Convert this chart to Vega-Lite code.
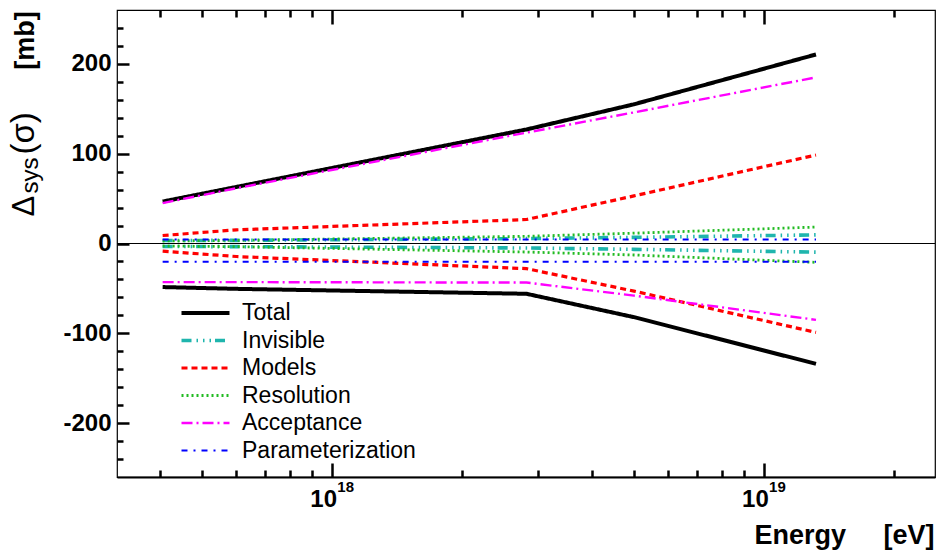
{
  "$schema": "https://vega.github.io/schema/vega-lite/v6.json",
  "width": 818,
  "height": 467,
  "autosize": {"type": "none"},
  "padding": {"left": 117, "top": 10, "right": 4, "bottom": 76},
  "background": "white",
  "config": {
    "view": {"stroke": "black", "strokeWidth": 1.2},
    "font": "Liberation Sans",
    "axis": {"labelFont": "Liberation Sans", "labelFontWeight": "bold", "labelFontSize": 24, "labelColor": "black", "grid": false, "titleColor": "black", "titleFont": "Liberation Sans"}
  },
  "data": {"values": [
    {"s": "Total", "d": "up", "E": 4.05e17, "v": 46.7},
    {"s": "Total", "d": "up", "E": 6e17, "v": 63},
    {"s": "Total", "d": "up", "E": 2.82e18, "v": 127},
    {"s": "Total", "d": "up", "E": 5e18, "v": 155},
    {"s": "Total", "d": "up", "E": 1.32e19, "v": 210.5},
    {"s": "Total", "d": "down", "E": 4.05e17, "v": -48.5},
    {"s": "Total", "d": "down", "E": 6e17, "v": -50.5},
    {"s": "Total", "d": "down", "E": 2.82e18, "v": -56},
    {"s": "Total", "d": "down", "E": 5e18, "v": -82},
    {"s": "Total", "d": "down", "E": 1.32e19, "v": -134},
    {"s": "Invisible", "d": "up", "E": 4.05e17, "v": 3.3},
    {"s": "Invisible", "d": "up", "E": 6e17, "v": 3.5},
    {"s": "Invisible", "d": "up", "E": 2.82e18, "v": 5.5},
    {"s": "Invisible", "d": "up", "E": 5e18, "v": 6.8},
    {"s": "Invisible", "d": "up", "E": 1.32e19, "v": 9.6},
    {"s": "Invisible", "d": "down", "E": 4.05e17, "v": -3.3},
    {"s": "Invisible", "d": "down", "E": 6e17, "v": -3.5},
    {"s": "Invisible", "d": "down", "E": 2.82e18, "v": -5},
    {"s": "Invisible", "d": "down", "E": 5e18, "v": -6.5},
    {"s": "Invisible", "d": "down", "E": 1.32e19, "v": -9.6},
    {"s": "Models", "d": "up", "E": 4.05e17, "v": 8.9},
    {"s": "Models", "d": "up", "E": 6e17, "v": 15.2},
    {"s": "Models", "d": "up", "E": 2.82e18, "v": 26.7},
    {"s": "Models", "d": "up", "E": 5e18, "v": 53},
    {"s": "Models", "d": "up", "E": 1.32e19, "v": 98.5},
    {"s": "Models", "d": "down", "E": 4.05e17, "v": -8.5},
    {"s": "Models", "d": "down", "E": 6e17, "v": -14.5},
    {"s": "Models", "d": "down", "E": 2.82e18, "v": -28},
    {"s": "Models", "d": "down", "E": 5e18, "v": -53},
    {"s": "Models", "d": "down", "E": 1.32e19, "v": -99},
    {"s": "Resolution", "d": "up", "E": 4.05e17, "v": 2.8},
    {"s": "Resolution", "d": "up", "E": 6e17, "v": 3.5},
    {"s": "Resolution", "d": "up", "E": 2.82e18, "v": 8},
    {"s": "Resolution", "d": "up", "E": 5e18, "v": 11.5},
    {"s": "Resolution", "d": "up", "E": 1.32e19, "v": 18.3},
    {"s": "Resolution", "d": "down", "E": 4.05e17, "v": -2.8},
    {"s": "Resolution", "d": "down", "E": 6e17, "v": -3.5},
    {"s": "Resolution", "d": "down", "E": 2.82e18, "v": -9.5},
    {"s": "Resolution", "d": "down", "E": 5e18, "v": -12.8},
    {"s": "Resolution", "d": "down", "E": 1.32e19, "v": -21},
    {"s": "Acceptance", "d": "up", "E": 4.05e17, "v": 45},
    {"s": "Acceptance", "d": "up", "E": 6e17, "v": 61.5},
    {"s": "Acceptance", "d": "up", "E": 2.82e18, "v": 123.5},
    {"s": "Acceptance", "d": "up", "E": 5e18, "v": 146},
    {"s": "Acceptance", "d": "up", "E": 1.32e19, "v": 185},
    {"s": "Acceptance", "d": "down", "E": 4.05e17, "v": -43},
    {"s": "Acceptance", "d": "down", "E": 6e17, "v": -43},
    {"s": "Acceptance", "d": "down", "E": 2.82e18, "v": -43.5},
    {"s": "Acceptance", "d": "down", "E": 5e18, "v": -58},
    {"s": "Acceptance", "d": "down", "E": 1.32e19, "v": -85},
    {"s": "Parameterization", "d": "up", "E": 4.05e17, "v": 4.5},
    {"s": "Parameterization", "d": "up", "E": 6e17, "v": 4.5},
    {"s": "Parameterization", "d": "up", "E": 2.82e18, "v": 4.5},
    {"s": "Parameterization", "d": "up", "E": 5e18, "v": 4.5},
    {"s": "Parameterization", "d": "up", "E": 1.32e19, "v": 4.5},
    {"s": "Parameterization", "d": "down", "E": 4.05e17, "v": -20.3},
    {"s": "Parameterization", "d": "down", "E": 6e17, "v": -20.3},
    {"s": "Parameterization", "d": "down", "E": 2.82e18, "v": -20.3},
    {"s": "Parameterization", "d": "down", "E": 5e18, "v": -20.3},
    {"s": "Parameterization", "d": "down", "E": 1.32e19, "v": -20.3}
  ]},
  "resolve": {"axis": {"x": "independent", "y": "independent"}},
  "layer": [
    {
      "mark": {"type": "line", "strokeCap": "butt"},
      "encoding": {
        "x": {"field": "E", "type": "quantitative",
          "scale": {"type": "log", "domain": [3.175e17, 2.49e19], "nice": false},
          "axis": {"orient": "bottom", "values": [1e18, 1e19], "domain": false, "ticks": true, "tickColor": "black", "tickWidth": 2.5, "offset": -14, "tickSize": 14, "labelPadding": 10, "labelExpr": "'10'", "labelOffset": -9,
            "title": "Energy\u00a0\u00a0\u00a0\u00a0\u00a0[eV]", "titleFontSize": 27, "titleFontWeight": "bold", "titleAnchor": "end", "titleAlign": "right", "titleX": 817, "titleY": 80, "titleBaseline": "alphabetic"}},
        "y": {"field": "v", "type": "quantitative",
          "scale": {"domain": [-260, 260], "nice": false, "zero": false},
          "axis": {"orient": "left", "values": [-200, -100, 0, 100, 200], "domain": false, "ticks": true, "tickColor": "black", "tickWidth": 2.5, "offset": -12, "tickSize": 12, "labelPadding": 6,
            "labelExpr": "datum.value < 0 ? '-' + abs(datum.value) : '' + datum.value",
            "title": "[mb]", "titleFontSize": 27, "titleFontWeight": "bold", "titleAngle": -90, "titleAlign": "center", "titleBaseline": "alphabetic", "titleX": -96, "titleY": 30}},
        "color": {"field": "s", "type": "nominal",
          "scale": {"domain": ["Total", "Invisible", "Models", "Resolution", "Acceptance", "Parameterization"], "range": ["#000000", "#1fb5ad", "#ff0000", "#22bb22", "#ff00ff", "#0000ff"]},
          "legend": {"orient": "none", "legendX": 77, "legendY": 291.5, "title": null, "labelFont": "Liberation Sans", "labelFontSize": 23, "labelColor": "black", "labelOffset": 25, "symbolSize": 144, "symbolType": "M-4,0H4", "rowPadding": 3.5, "padding": 0, "labelLimit": 400}},
        "strokeDash": {"field": "s", "type": "nominal",
          "scale": {"domain": ["Total", "Invisible", "Models", "Resolution", "Acceptance", "Parameterization"], "range": [[1, 0], [10, 5, 1.5, 5, 1.5, 5, 1.5, 4], [6, 4], [2, 3], [11, 4, 2, 4], [6, 6, 2, 6]]}},
        "strokeWidth": {"field": "s", "type": "nominal",
          "scale": {"domain": ["Total", "Invisible", "Models", "Resolution", "Acceptance", "Parameterization"], "range": [4, 2, 2.2, 2, 2.2, 2]}},
        "detail": {"field": "d"}
      }
    },
    {
      "mark": {"type": "point", "opacity": 0},
      "encoding": {
        "x": {"field": "E", "type": "quantitative",
          "scale": {"type": "log", "domain": [3.175e17, 2.49e19], "nice": false},
          "axis": {"orient": "bottom", "values": [4e17, 5e17, 6e17, 7e17, 8e17, 9e17, 2e18, 3e18, 4e18, 5e18, 6e18, 7e18, 8e18, 9e18, 2e19], "domain": false, "ticks": true, "tickColor": "black", "tickWidth": 2.5, "offset": -7, "tickSize": 7, "labels": false, "title": null}},
        "y": {"field": "v", "type": "quantitative",
          "scale": {"domain": [-260, 260], "nice": false, "zero": false},
          "axis": {"orient": "left", "values": [-240, -220, -180, -160, -140, -120, -80, -60, -40, -20, 20, 40, 60, 80, 120, 140, 160, 180, 220, 240], "domain": false, "ticks": true, "tickColor": "black", "tickWidth": 2.5, "offset": -6, "tickSize": 6, "labels": false,
            "title": "Δ", "titleFontSize": 31, "titleFontWeight": "normal", "titleAngle": -90, "titleAlign": "left", "titleBaseline": "alphabetic", "titleX": -90, "titleY": 206}}
      }
    },
    {
      "mark": {"type": "point", "opacity": 0},
      "encoding": {
        "x": {"field": "E", "type": "quantitative",
          "scale": {"type": "log", "domain": [3.175e17, 2.49e19], "nice": false},
          "axis": {"orient": "top", "values": [1e18, 1e19], "domain": false, "ticks": true, "tickColor": "black", "tickWidth": 2.5, "tickSize": -14, "labels": false, "title": null}},
        "y": {"field": "v", "type": "quantitative",
          "scale": {"domain": [-260, 260], "nice": false, "zero": false},
          "axis": {"orient": "left", "ticks": false, "labels": false, "domain": false,
            "title": "sys", "titleFontSize": 24, "titleFontWeight": "normal", "titleAngle": -90, "titleAlign": "left", "titleBaseline": "alphabetic", "titleX": -80, "titleY": 183}}
      }
    },
    {
      "mark": {"type": "point", "opacity": 0},
      "encoding": {
        "x": {"field": "E", "type": "quantitative",
          "scale": {"type": "log", "domain": [3.175e17, 2.49e19], "nice": false},
          "axis": {"orient": "top", "values": [4e17, 5e17, 6e17, 7e17, 8e17, 9e17, 2e18, 3e18, 4e18, 5e18, 6e18, 7e18, 8e18, 9e18, 2e19], "domain": false, "ticks": true, "tickColor": "black", "tickWidth": 2.5, "tickSize": -7, "labels": false, "title": null}},
        "y": {"field": "v", "type": "quantitative",
          "scale": {"domain": [-260, 260], "nice": false, "zero": false},
          "axis": {"orient": "left", "ticks": false, "labels": false, "domain": false,
            "title": "(σ)", "titleFontSize": 33, "titleFontWeight": "normal", "titleAngle": -90, "titleAlign": "left", "titleBaseline": "alphabetic", "titleX": -84, "titleY": 144}}
      }
    },
    {
      "mark": {"type": "point", "opacity": 0},
      "encoding": {
        "x": {"field": "E", "type": "quantitative",
          "scale": {"type": "log", "domain": [3.175e17, 2.49e19], "nice": false},
          "axis": {"orient": "bottom", "values": [1e18, 1e19], "ticks": false, "domain": true, "domainColor": "black", "domainWidth": 2, "labelPadding": 2, "labelExpr": "datum.value < 5e18 ? '18' : '19'", "labelFontSize": 15, "labelOffset": 13, "title": null}},
        "y": {"field": "v", "type": "quantitative",
          "scale": {"domain": [-260, 260], "nice": false, "zero": false},
          "axis": null}
      }
    },
    {
      "mark": {"type": "rule", "color": "black", "strokeWidth": 1},
      "encoding": {
        "y": {"datum": 0, "type": "quantitative", "scale": {"domain": [-260, 260], "nice": false, "zero": false}, "axis": null}
      }
    }
  ]
}
